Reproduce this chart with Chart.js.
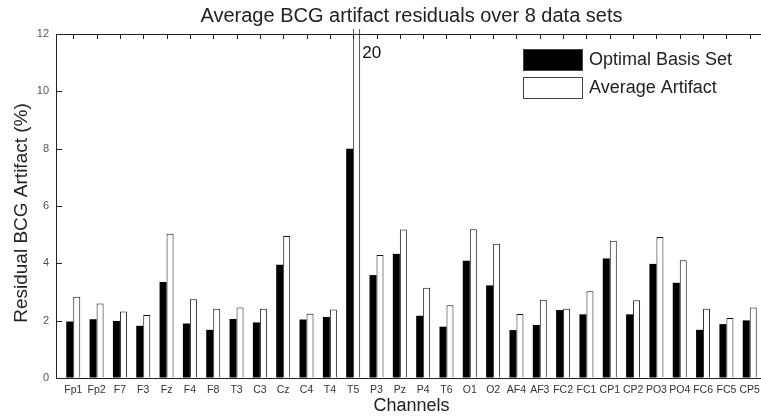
<!DOCTYPE html>
<html>
<head>
<meta charset="utf-8">
<title>Average BCG artifact residuals</title>
<script src="https://cdn.jsdelivr.net/npm/chart.js@4.4.1/dist/chart.umd.min.js"></script>
<style>
    html, body { margin: 0; padding: 0; background: #fff; overflow: hidden; }
    #wrap { width: 772px; height: 419px; position: relative; }
</style>
</head>
<body>
<div id="wrap"><canvas id="bcgChart"></canvas></div>
<script>
const channels = ['Fp1', 'Fp2', 'F7', 'F3', 'Fz', 'F4', 'F8', 'T3', 'C3', 'Cz',
    'C4', 'T4', 'T5', 'P3', 'Pz', 'P4', 'T6', 'O1', 'O2', 'AF4',
    'AF3', 'FC2', 'FC1', 'CP1', 'CP2', 'PO3', 'PO4', 'FC6', 'FC5', 'CP5'];
const optimalBasis = [1.97, 2.05, 1.99, 1.82, 3.35, 1.90, 1.68, 2.06, 1.94, 3.95,
    2.04, 2.13, 8.00, 3.59, 4.33, 2.17, 1.79, 4.09, 3.23, 1.67,
    1.85, 2.37, 2.22, 4.17, 2.22, 3.98, 3.32, 1.68, 1.88, 2.01];
const averageArtifact = [2.83, 2.60, 2.32, 2.20, 5.03, 2.75, 2.42, 2.46, 2.42, 4.95,
    2.24, 2.39, 20, 4.29, 5.18, 3.15, 2.54, 5.19, 4.68, 2.23,
    2.73, 2.42, 3.03, 4.79, 2.71, 4.92, 4.11, 2.42, 2.09, 2.46];
const yTicks = [0, 2, 4, 6, 8, 10, 12];

const FONT = "'Liberation Sans', Arial, Helvetica, sans-serif";
const AXIS = '#222';

// frame, inward ticks, titles, legend and the clipped-value note
const decorations = {
    id: 'decorations',
    afterDraw(chart) {
        const c = chart.ctx;
        const area = chart.chartArea;
        const x = chart.scales.x;
        const y = chart.scales.y;
        const top = Math.round(area.top);
        const left = Math.round(area.left);
        c.save();
        c.fillStyle = AXIS;
        c.fillRect(left, top, area.right - left, 1);
        x.ticks.forEach(t => {
            c.fillRect(Math.round(x.getPixelForValue(t.value)), top, 1, 5);
        });
        y.ticks.forEach(t => {
            c.fillRect(left, Math.round(y.getPixelForValue(t.value)), 6, 1);
        });

        // value above the axis limit
        averageArtifact.forEach((v, i) => {
            if (v > y.max) {
                c.fillStyle = '#111';
                c.font = '17px ' + FONT;
                c.textBaseline = 'middle';
                c.textAlign = 'left';
                c.fillText(String(v), x.getPixelForValue(i + 1) + 9, area.top + 19);
            }
        });

        // title centred on the plot
        c.fillStyle = '#222';
        c.font = '20px ' + FONT;
        c.textAlign = 'center';
        c.textBaseline = 'middle';
        c.fillText('Average BCG artifact residuals over 8 data sets', (area.left + area.right) / 2, 16);

        // y axis title
        c.save();
        c.translate(22, (area.top + area.bottom) / 2 + 7);
        c.rotate(-Math.PI / 2);
        c.font = '19px ' + FONT;
        c.fillText('Residual BCG Artifact (%)', 0, 0);
        c.restore();

        // legend
        const lx = area.left + 467;
        let ly = area.top + 15;
        chart.data.datasets.forEach(ds => {
            c.fillStyle = '#444';
            c.fillRect(lx, ly, 60, 22);
            c.fillStyle = ds.backgroundColor;
            c.fillRect(lx + 1, ly + 1, 58, 20);
            c.fillStyle = '#222';
            c.font = '18px ' + FONT;
            c.textAlign = 'left';
            c.fillText(ds.label, lx + 66, ly + 11);
            ly += 28;
        });
        c.restore();
    }
};

new Chart(document.getElementById('bcgChart'), {
    type: 'bar',
    data: {
        datasets: [{
            label: 'Optimal Basis Set',
            data: optimalBasis.map((v, i) => ({ x: i + 1, y: v })),
            backgroundColor: '#000',
            borderWidth: 0,
            categoryPercentage: 0.6,
            barPercentage: 1.0
        }, {
            label: 'Average Artifact',
            data: averageArtifact.map((v, i) => ({ x: i + 1, y: v })),
            backgroundColor: '#fff',
            borderColor: '#111',
            borderWidth: 1,
            categoryPercentage: 0.6,
            barPercentage: 1.0,
            clip: { left: 0, top: 5, right: 0, bottom: 0 }
        }]
    },
    options: {
        responsive: true,
        maintainAspectRatio: false,
        animation: false,
        layout: { padding: { top: 34, right: 5, left: 0, bottom: 0 } },
        plugins: {
            legend: { display: false },
            title: { display: false },
            tooltip: { enabled: false }
        },
        scales: {
            x: {
                type: 'linear',
                offset: false,
                min: 0.26,
                max: 30.74,
                afterBuildTicks: scale => {
                    scale.ticks = channels.map((c, i) => ({ value: i + 1 }));
                },
                afterFit: scale => { scale.height = 41; },
                grid: { offset: false, drawOnChartArea: false, drawTicks: false },
                border: { display: true, color: AXIS, width: 1 },
                ticks: {
                    autoSkip: false,
                    maxRotation: 0,
                    padding: 6,
                    color: '#333',
                    font: { family: FONT, size: 10.5 },
                    callback: v => channels[v - 1] || ''
                },
                title: {
                    display: true,
                    text: 'Channels',
                    color: '#222',
                    font: { family: FONT, size: 18 },
                    padding: { top: 0, bottom: 2 }
                }
            },
            y: {
                min: 0,
                max: 12,
                afterBuildTicks: scale => {
                    scale.ticks = yTicks.map(v => ({ value: v }));
                },
                afterFit: scale => { scale.width = 56; },
                grid: { drawOnChartArea: false, drawTicks: false },
                border: { display: true, color: AXIS, width: 1 },
                ticks: {
                    padding: 7,
                    color: '#555',
                    font: { family: FONT, size: 11 }
                }
            }
        }
    },
    plugins: [decorations]
});
</script>
</body>
</html>
